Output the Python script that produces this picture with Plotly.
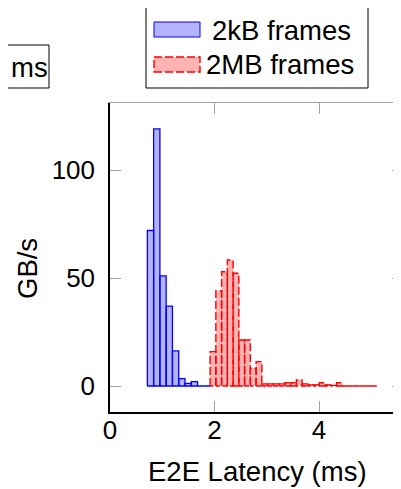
import plotly.graph_objects as go

# ---- data ----
blue_name = "2kB frames"
blue_start = 0.715      # left edge of first bin (ms)
blue_width = 0.12       # bin width (ms)
blue_vals = [72, 119, 51, 37, 16.3, 3.4, 1.2, 2.0, 0, 0]

red_name = "2MB frames"
red_start = 1.916
red_width = 0.11
red_vals = [15.9, 44.1, 52.9, 58.3, 52.2, 21.3, 21.3, 8.2, 11.3, 1.0,
            1.0, 1.0, 1.0, 1.5, 1.5, 2.8, 1.0, 0.5, 0.5, 1.5,
            0.5, 0.3, 1.5, 0, 0, 0, 0, 0, 0]

x_ticks = [0, 2, 4]
y_ticks = [0, 50, 100]
x_title = "E2E Latency (ms)"
y_title = "GB/s"

# ---- figure geometry (screen pixels; the page body adds an 8px offset) ----
OFF = 8
W, H = 401, 489
S_LEFT, S_RIGHT, S_TOP, S_BOTTOM = 110, 403, 103, 412
L = S_LEFT - OFF
T = S_TOP - OFF
R = W - (S_RIGHT - OFF)
B = H - (S_BOTTOM - OFF)
PW, PH = W - L - R, H - T - B
FONT = "Liberation Sans"
FS_TICK = 26
FS_TEXT = 27.5

BLUE_FILL = "rgb(179,179,255)"
RED_FILL = "rgb(255,179,179)"


def px(xs):
    return (xs - OFF - L) / PW


def py(ys):
    return (H - B - (ys - OFF)) / PH


def edges(start, width, n):
    return [start + width * i for i in range(n + 1)]


def outline(e, vals):
    xs, ys = [], []
    for i, v in enumerate(vals):
        x0, x1 = e[i], e[i + 1]
        xs += [x0, x0, x1, x1, x0, None]
        ys += [0, v, v, 0, 0, None]
    return xs, ys


fig = go.Figure()

be = edges(blue_start, blue_width, len(blue_vals))
re_ = edges(red_start, red_width, len(red_vals))

fig.add_trace(go.Bar(x=[(be[i] + be[i + 1]) / 2 for i in range(len(blue_vals))],
                     y=blue_vals, width=blue_width, marker=dict(color=BLUE_FILL, line=dict(width=0)),
                     name=blue_name, showlegend=False))
bx, by = outline(be, blue_vals)
fig.add_trace(go.Scatter(x=bx, y=by, mode="lines", line=dict(color="blue", width=1.3),
                         showlegend=False, hoverinfo="skip"))

fig.add_trace(go.Bar(x=[(re_[i] + re_[i + 1]) / 2 for i in range(len(red_vals))],
                     y=red_vals, width=red_width, marker=dict(color=RED_FILL, line=dict(width=0)),
                     name=red_name, showlegend=False))
rx, ry = outline(re_, red_vals)
fig.add_trace(go.Scatter(x=rx, y=ry, mode="lines", line=dict(color="red", width=1.4, dash="8px,3px"),
                         showlegend=False, hoverinfo="skip"))

# dummy trace for mirrored axes
fig.add_trace(go.Scatter(x=[None], y=[None], xaxis="x2", yaxis="y2", showlegend=False))

XSCALE = 52.25  # px per ms
YSCALE = 2.16   # px per GB/s
Y0 = 386        # screen y of value 0
x_range = [0, PW / XSCALE]
y_range = [(Y0 - S_BOTTOM) / YSCALE, (Y0 - S_TOP) / YSCALE]

tick_gray = "rgb(160,160,160)"
fig.update_layout(
    width=W, height=H,
    margin=dict(l=L, r=R, t=T, b=B, pad=0),
    plot_bgcolor="white", paper_bgcolor="white",
    font=dict(family=FONT, size=FS_TICK, color="black"),
    barmode="overlay", bargap=0,
    showlegend=False,
    xaxis=dict(range=x_range, tickvals=x_ticks, ticks="inside", ticklen=11, tickcolor=tick_gray,
               tickwidth=1, showline=True, linecolor="black", linewidth=1.5, showgrid=False,
               zeroline=False, ticklabelstandoff=-6),
    yaxis=dict(range=y_range, tickvals=y_ticks, ticks="inside", ticklen=11, tickcolor=tick_gray,
               tickwidth=1, showline=True, linecolor="black", linewidth=1.5, showgrid=False,
               zeroline=False, ticklabelstandoff=8),
    xaxis2=dict(range=x_range, overlaying="x", side="top", tickvals=[2, 4], ticks="inside",
                ticklen=11, tickcolor=tick_gray, showticklabels=False, showline=True,
                linecolor=tick_gray, linewidth=1, showgrid=False, zeroline=False),
    yaxis2=dict(range=y_range, overlaying="y", side="right", tickvals=y_ticks, ticks="inside",
                ticklen=11, tickcolor=tick_gray, showticklabels=False, showline=True,
                linecolor=tick_gray, linewidth=1, showgrid=False, zeroline=False),
)

annotations = [
    dict(text=x_title, x=px(257), y=py(471), xref="paper", yref="paper", showarrow=False,
         xanchor="center", yanchor="middle", font=dict(size=FS_TEXT)),
    dict(text=y_title, x=px(27), y=py(269), xref="paper", yref="paper", showarrow=False,
         xanchor="center", yanchor="middle", textangle=-90, font=dict(size=FS_TEXT)),
    dict(text=blue_name, x=px(210), y=py(30), xref="paper", yref="paper", showarrow=False,
         xanchor="left", yanchor="middle", font=dict(size=FS_TEXT)),
    dict(text=red_name, x=px(204), y=py(64), xref="paper", yref="paper", showarrow=False,
         xanchor="left", yanchor="middle", font=dict(size=FS_TEXT)),
    dict(text="ms", x=px(9), y=py(67), xref="paper", yref="paper", showarrow=False,
         xanchor="left", yanchor="middle", font=dict(size=FS_TEXT)),
]
fig.update_layout(annotations=annotations)

shapes = [
    # legend box
    dict(type="rect", xref="paper", yref="paper", x0=px(146), x1=px(368), y0=py(88), y1=py(5),
         line=dict(color="black", width=1), fillcolor="white", layer="above"),
    dict(type="rect", xref="paper", yref="paper", x0=px(154), x1=px(200), y0=py(37), y1=py(22),
         line=dict(color="blue", width=1), fillcolor=BLUE_FILL, layer="above"),
    dict(type="rect", xref="paper", yref="paper", x0=px(154), x1=px(200), y0=py(72), y1=py(57),
         line=dict(color="red", width=1.4, dash="8px,3px"), fillcolor=RED_FILL, layer="above"),
    # partially visible neighbouring box (its left side lies outside the picture)
    dict(type="path", xref="paper", yref="paper",
         path=f"M {px(-40)},{py(45)} L {px(49)},{py(45)} L {px(49)},{py(88)} L {px(-40)},{py(88)}",
         line=dict(color="black", width=1), layer="above"),
]
fig.update_layout(shapes=shapes)

fig.write_html("out.html")
